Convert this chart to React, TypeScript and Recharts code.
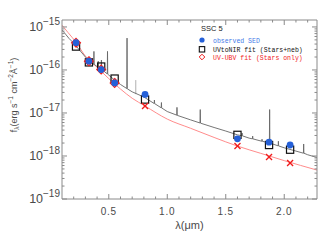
import { ComposedChart, Line, Scatter, XAxis, YAxis } from "recharts";

const W = 336;
const H = 240;

// photometric bands (micron)
const bandLambda = [0.22, 0.33, 0.435, 0.55, 0.81, 1.6, 1.87, 2.05];
const observedFlux = [4.3e-16, 1.6e-16, 1.02e-16, 5.0e-17, 2.7e-17, 2.5e-18, 2.1e-18, 1.8e-18];
const uvToNirFlux = [3.5e-16, 1.5e-16, 1.2e-16, 6.3e-17, 2.05e-17, 3.1e-18, 1.8e-18, 1.4e-18];
// stars-only fit: first four bands were fitted, the rest are predictions
const uvUbvFitFlux = [4.3e-16, 1.6e-16, 1.02e-16, 5.0e-17];
const uvUbvPredFlux = [1.45e-17, 1.7e-18, 9.5e-19, 6.9e-19];

// UVtoNIR model spectrum (continuum + nebular lines), [lambda, flux]
const modelSpectrum = [
  [0.1, 8.5e-16], [0.13, 6.8e-16], [0.16, 5.4e-16], [0.2, 4.2e-16], [0.25, 2.9e-16],
  [0.3, 2.0e-16], [0.35, 1.45e-16],
  [0.371, 1.36e-16], [0.373, 2.7e-16], [0.375, 1.35e-16],
  [0.4, 1.2e-16],
  [0.408, 1.17e-16], [0.41, 1.6e-16], [0.412, 1.16e-16],
  [0.435, 1.06e-16], [0.437, 1.7e-16], [0.439, 1.05e-16],
  [0.45, 9.8e-17],
  [0.487, 8.1e-17], [0.489, 2.7e-16], [0.491, 8.0e-17],
  [0.5, 7.6e-17], [0.55, 5.8e-17], [0.6, 4.6e-17],
  [0.654, 3.7e-17], [0.656, 5.5e-16], [0.658, 3.65e-17],
  [0.7, 3.1e-17], [0.75, 2.7e-17], [0.8, 2.35e-17],
  [0.888, 1.66e-17], [0.89, 2.0e-17], [0.892, 1.65e-17],
  [0.948, 1.32e-17], [0.95, 1.75e-17], [0.952, 1.31e-17],
  [1.0, 1.08e-17],
  [1.081, 8.9e-18], [1.083, 1.35e-17], [1.085, 8.8e-18],
  [1.2, 6.9e-18],
  [1.28, 5.85e-18], [1.282, 1.2e-17], [1.284, 5.8e-18],
  [1.4, 4.6e-18], [1.5, 3.8e-18], [1.6, 3.1e-18],
  [1.638, 2.95e-18], [1.64, 3.4e-18], [1.642, 2.94e-18],
  [1.7, 2.6e-18],
  [1.728, 2.5e-18], [1.73, 2.9e-18], [1.732, 2.5e-18],
  [1.808, 2.2e-18], [1.81, 2.45e-18], [1.812, 2.2e-18],
  [1.873, 2.0e-18], [1.875, 1.2e-17], [1.877, 2.0e-18],
  [1.948, 1.72e-18], [1.95, 2.2e-18], [1.952, 1.71e-18],
  [2.0, 1.55e-18], [2.1, 1.3e-18],
  [2.164, 1.16e-18], [2.166, 1.9e-18], [2.168, 1.16e-18],
  [2.2, 1.07e-18], [2.28, 9.2e-19],
];
// faint line drawn in light grey
const faintLine = [[0.728, 2.75e-17], [0.73, 5.8e-17], [0.732, 2.75e-17]];

// UV-UBV stars-only model
const starsOnlyCurve = [
  [0.1, 1.1e-15], [0.15, 7.5e-16], [0.22, 4.4e-16], [0.3, 2.1e-16], [0.4, 1.15e-16],
  [0.5, 6.3e-17], [0.6, 3.6e-17], [0.7, 2.2e-17], [0.81, 1.45e-17], [1.0, 7.2e-18],
  [1.2, 4.4e-18], [1.4, 2.7e-18], [1.6, 1.7e-18], [1.8, 1.15e-18], [2.0, 7.8e-19],
  [2.28, 4.7e-19],
];

const xMajor = [0.5, 1.0, 1.5, 2.0];
const xTicks = [0.2, 0.3, 0.4, 0.5, 0.6, 0.7, 0.8, 0.9, 1.0, 1.1, 1.2, 1.3, 1.4, 1.5, 1.6, 1.7, 1.8, 1.9, 2.0, 2.1, 2.2];
const yExponents = [-19, -18, -17, -16, -15];
const yMinorMantissa = [2, 3, 4, 5, 6, 7, 8, 9];
const yTicks = [
  ...yExponents.map((e) => Math.pow(10, e)),
  ...yExponents.slice(0, 4).flatMap((e) => yMinorMantissa.map((m) => m * Math.pow(10, e))),
];

const FRAME = "#8a8a8a";
const TEXT = "#4a4a4a";
const BLUE = "#2560d8";
const RED = "#f01c1c";
const FONT = "'Liberation Sans', Arial, sans-serif";

const toPts = (arr: number[][]) => arr.map(([x, y]) => ({ x, y }));
const modelData = toPts(modelSpectrum);
const faintData = toPts(faintLine);
const starsData = toPts(starsOnlyCurve);
const obsData = bandLambda.map((x, i) => ({ x, y: observedFlux[i] }));
const nirData = bandLambda.map((x, i) => ({ x, y: uvToNirFlux[i] }));
const fitData = bandLambda.slice(0, 4).map((x, i) => ({ x, y: uvUbvFitFlux[i] }));
const predData = bandLambda.slice(4).map((x, i) => ({ x, y: uvUbvPredFlux[i] }));

const isMajorY = (v: number) => Math.abs(Math.log10(v) - Math.round(Math.log10(v))) < 1e-6;
const isMajorX = (v: number) => xMajor.some((m) => Math.abs(m - v) < 1e-6);

function LeftTick(props: any) {
  const { x, y, payload } = props;
  const v = payload.value;
  const major = isMajorY(v);
  return (
    <g>
      <line x1={x} x2={x + (major ? 5 : 2.5)} y1={y} y2={y} stroke={FRAME} />
      {major && (
        <text x={x - 2} y={y + 4} textAnchor="end" fill={TEXT} fontFamily={FONT} fontSize={12.5}>
          10
          <tspan dy={-6} fontSize={10}>
            {"\u2212" + String(-Math.round(Math.log10(v)))}
          </tspan>
        </text>
      )}
    </g>
  );
}

function RightTick(props: any) {
  const { x, y, payload } = props;
  const major = isMajorY(payload.value);
  return <line x1={x} x2={x - (major ? 5 : 2.5)} y1={y} y2={y} stroke={FRAME} />;
}

function BottomTick(props: any) {
  const { x, y, payload } = props;
  const major = isMajorX(payload.value);
  return (
    <g>
      <line x1={x} x2={x} y1={y} y2={y - (major ? 5 : 2.5)} stroke={FRAME} />
      {major && (
        <text x={x} y={y + 16} textAnchor="middle" fill={TEXT} fontFamily={FONT} fontSize={10} letterSpacing={0.8}>
          {payload.value.toFixed(1)}
        </text>
      )}
    </g>
  );
}

function TopTick(props: any) {
  const { x, y, payload } = props;
  const major = isMajorX(payload.value);
  return <line x1={x} x2={x} y1={y} y2={y + (major ? 5 : 2.5)} stroke={FRAME} />;
}

const Dot = (p: any) => <circle cx={p.cx} cy={p.cy} r={3.4} fill={BLUE} />;
const Box = (p: any) => (
  <rect x={p.cx - 3.6} y={p.cy - 3.6} width={7.2} height={7.2} fill="none" stroke="#111" strokeWidth={1.2} />
);
const Diamond = (p: any) => (
  <path
    d={`M${p.cx},${p.cy - 4.4}L${p.cx + 4.4},${p.cy}L${p.cx},${p.cy + 4.4}L${p.cx - 4.4},${p.cy}Z`}
    fill="none"
    stroke={RED}
    strokeWidth={1.2}
  />
);
const Cross = (p: any) => (
  <g stroke={RED} strokeWidth={1.3}>
    <line x1={p.cx - 3} y1={p.cy - 3} x2={p.cx + 3} y2={p.cy + 3} />
    <line x1={p.cx - 3} y1={p.cy + 3} x2={p.cx + 3} y2={p.cy - 3} />
  </g>
);

const xDomain = [0.1, 2.28];
const yDomain = [1e-19, 1.45e-15];

export default function App() {
  return (
    <div style={{ position: "absolute", left: 0, top: 0, width: W, height: H, background: "#fff" }}>
      <ComposedChart width={W} height={H} margin={{ top: 0, right: 0, bottom: 0, left: 0 }}>
        <XAxis
          xAxisId="b"
          type="number"
          dataKey="x"
          domain={xDomain}
          allowDataOverflow
          ticks={xTicks}
          interval={0}
          height={41}
          tickSize={0}
          tickMargin={0}
          tickLine={false}
          axisLine={{ stroke: FRAME }}
          tick={(p: any) => <BottomTick {...p} />}
        />
        <XAxis
          xAxisId="t"
          orientation="top"
          type="number"
          dataKey="x"
          domain={xDomain}
          allowDataOverflow
          ticks={xTicks}
          interval={0}
          height={20}
          tickSize={0}
          tickMargin={0}
          tickLine={false}
          axisLine={{ stroke: FRAME }}
          tick={(p: any) => <TopTick {...p} />}
        />
        <YAxis
          yAxisId="l"
          scale="log"
          type="number"
          domain={yDomain}
          allowDataOverflow
          ticks={yTicks}
          interval={0}
          width={62}
          tickSize={0}
          tickMargin={0}
          tickLine={false}
          axisLine={{ stroke: FRAME }}
          tick={(p: any) => <LeftTick {...p} />}
        />
        <YAxis
          yAxisId="r"
          orientation="right"
          scale="log"
          type="number"
          domain={yDomain}
          allowDataOverflow
          ticks={yTicks}
          interval={0}
          width={19}
          tickSize={0}
          tickMargin={0}
          tickLine={false}
          axisLine={{ stroke: FRAME }}
          tick={(p: any) => <RightTick {...p} />}
        />
        <Line xAxisId="b" yAxisId="l" data={starsData} dataKey="y" type="monotone" stroke="#ff8c8c" strokeWidth={1} dot={false} isAnimationActive={false} />
        <Line xAxisId="b" yAxisId="l" data={faintData} dataKey="y" type="linear" stroke="#c4c4c4" strokeWidth={1} dot={false} isAnimationActive={false} />
        <Line xAxisId="b" yAxisId="l" data={modelData} dataKey="y" type="linear" stroke="#666" strokeWidth={0.9} dot={false} isAnimationActive={false} />
        <Scatter xAxisId="b" yAxisId="l" data={nirData} dataKey="y" shape={Box} isAnimationActive={false} />
        <Scatter xAxisId="b" yAxisId="l" data={fitData} dataKey="y" shape={Diamond} isAnimationActive={false} />
        <Scatter xAxisId="b" yAxisId="l" data={obsData} dataKey="y" shape={Dot} isAnimationActive={false} />
        <Scatter xAxisId="b" yAxisId="l" data={predData} dataKey="y" shape={Cross} isAnimationActive={false} />
      </ComposedChart>
      <svg width={W} height={H} style={{ position: "absolute", left: 0, top: 0, pointerEvents: "none" }}>
        <text x={189.5} y={229} textAnchor="middle" fill={TEXT} fontFamily={FONT} fontSize={11}>
          λ(μm)
        </text>
        <text transform="translate(17,95) rotate(-90)" textAnchor="middle" fill={TEXT} fontFamily={FONT} fontSize={9}>
          f
          <tspan dy={2} fontSize={6.5}>λ</tspan>
          <tspan dy={-2}>(erg s</tspan>
          <tspan dy={-4} fontSize={6.5}>−1</tspan>
          <tspan dy={4}> cm</tspan>
          <tspan dy={-4} fontSize={6.5}>−2</tspan>
          <tspan dy={4}>Å</tspan>
          <tspan dy={-4} fontSize={6.5}>−1</tspan>
          <tspan dy={4}>)</tspan>
        </text>
        <text x={201} y={31} fill="#222" fontFamily={FONT} fontSize={7.5}>SSC 5</text>
        <circle cx={202} cy={40} r={2.6} fill={BLUE} />
        <text x={213} y={42.5} fill="#3f7ae8" fontFamily="'Liberation Mono', monospace" fontSize={6.5}>observed SED</text>
        <rect x={199.3} y={46.6} width={5.4} height={5.4} fill="none" stroke="#111" strokeWidth={1.1} />
        <text x={213} y={51.8} fill="#111" fontFamily="'Liberation Mono', monospace" fontSize={6.5}>UVtoNIR fit (Stars+neb)</text>
        <path d="M202,54.2L204.8,57L202,59.8L199.2,57Z" fill="none" stroke={RED} strokeWidth={1} />
        <text x={213} y={59.5} fill={RED} fontFamily="'Liberation Mono', monospace" fontSize={6.5}>UV-UBV fit (Stars only)</text>
      </svg>
    </div>
  );
}
